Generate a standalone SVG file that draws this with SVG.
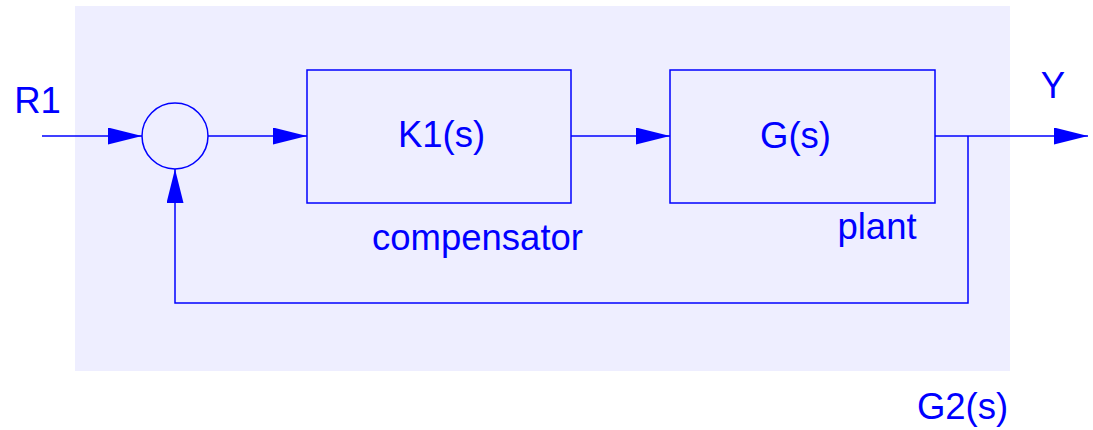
<svg xmlns="http://www.w3.org/2000/svg" width="1093" height="430" viewBox="0 0 1093 430">
  <style>
    .ln { fill: none; stroke: #0000ff; stroke-width: 1.5; }
    .bx { fill: none; stroke: #0000ff; stroke-width: 1.5; }
    .tx { font-family: "Liberation Sans", Arial, sans-serif; font-size: 36.5px; fill: #0000ff; text-anchor: middle; }
  </style>
  <defs>
    <marker id="arr" markerUnits="userSpaceOnUse" markerWidth="34" markerHeight="17" refX="34" refY="8.5" orient="auto">
      <path d="M0,0 L34,8.5 L0,17 z" fill="#0000ff"/>
    </marker>
  </defs>
  <g id="system">
    <rect x="75" y="6" width="935" height="365" fill="#eeeeff"/>
    <text class="tx" x="962.5" y="419">G2(s)</text>
  </g>
  <g id="sum">
    <circle class="bx" cx="175" cy="136" r="33"/>
  </g>
  <g id="compensator">
    <rect class="bx" x="307" y="70" width="264" height="133"/>
    <text class="tx" x="441.5" y="147">K1(s)</text>
    <text class="tx" x="477.5" y="250">compensator</text>
  </g>
  <g id="plant">
    <rect class="bx" x="670" y="70" width="265" height="133"/>
    <text class="tx" x="795.5" y="148">G(s)</text>
    <text class="tx" x="877" y="239">plant</text>
  </g>
  <g id="labels">
    <text class="tx" x="37.5" y="113">R1</text>
    <text class="tx" x="1053" y="98">Y</text>
  </g>
  <g id="connectors">
    <line class="ln" x1="42" y1="136" x2="142" y2="136" marker-end="url(#arr)"/>
    <line class="ln" x1="208" y1="136" x2="307" y2="136" marker-end="url(#arr)"/>
    <line class="ln" x1="571" y1="136" x2="670" y2="136" marker-end="url(#arr)"/>
    <line class="ln" x1="935" y1="136" x2="1088" y2="136" marker-end="url(#arr)"/>
    <polyline class="ln" points="968,136 968,303 175,303 175,169" marker-end="url(#arr)"/>
  </g>
</svg>
